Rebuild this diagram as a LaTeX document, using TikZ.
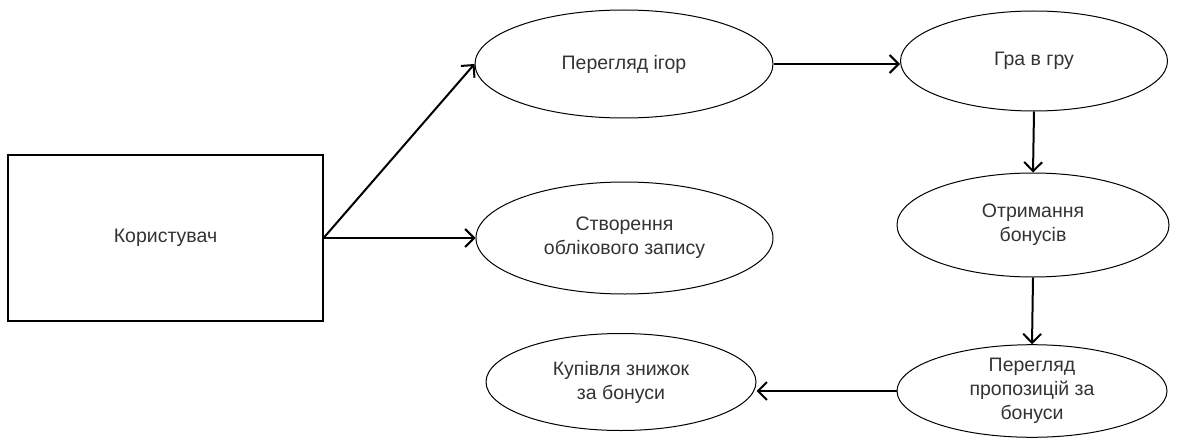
\documentclass[tikz,border=0pt]{standalone}
\usepackage{fontspec}
\setmainfont{Liberation Sans}
\usetikzlibrary{shapes.geometric,arrows.meta,calc}
\begin{document}
\begin{tikzpicture}[x=1pt,y=-1pt,
  every node/.style={font=\fontsize{19.5}{24}\selectfont, text=black!80, align=center, inner sep=0pt},
  usecase/.style={ellipse, draw=black, line width=1pt},
  actorbox/.style={rectangle, draw=black, line width=1.1pt},
  flow/.style={line width=2pt, -{Straight Barb[length=9pt,width=18pt]}}]
\useasboundingbox (0,0) rectangle (1177,441);
\fill[white] (0,0) rectangle (1177,441);

% actor
\node[actorbox, minimum width=315pt, minimum height=166pt] (user) at (165.5,238) {Користувач};

% use cases
\node[usecase, minimum width=298pt, minimum height=108pt] (view) at (624,64) {Перегляд ігор};
\node[usecase, minimum width=297pt, minimum height=112pt] (create) at (624.5,238) {Створення\\облікового запису};
\node[usecase, minimum width=267pt, minimum height=100pt] (game) at (1034,61) {Гра в гру};
\node[usecase, minimum width=272pt, minimum height=104pt] (bonus) at (1033,225) {Отримання\\бонусів};
\node[usecase, minimum width=270pt, minimum height=92pt] (offer) at (1032,391) {Перегляд\\пропозицій за\\бонуси};
\node[usecase, minimum width=270pt, minimum height=97pt] (buy) at (621,382) {Купівля знижок\\за бонуси};

% connectors
\draw[flow] (user.east) -- (view.west);
\draw[flow] (user.east) -- (create.west);
\draw[flow] (view.east) -- (view.east -| game.west);
\draw[flow] (game.south) -- (bonus.north);
\draw[flow] (bonus.south) -- (offer.north);
\draw[flow] (offer.west) -- (offer.west -| buy.east);
\end{tikzpicture}
\end{document}
